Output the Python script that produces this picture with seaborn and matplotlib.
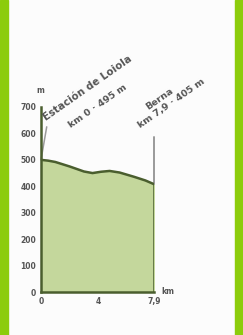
import numpy as np
import pandas as pd
import matplotlib
matplotlib.use("Agg")
import matplotlib.pyplot as plt
import seaborn as sns

# elevation profile
km = [0, 0.5, 1, 2, 3, 3.6, 4.2, 4.8, 5.5, 6.5, 7.3, 7.9]
alt = [500, 497, 492, 475, 456, 450, 455, 458, 452, 436, 422, 408]
yticks = [0, 100, 200, 300, 400, 500, 600, 700]
xticks = [0, 4, 7.9]
xlabels = ["0", "4", "7,9"]
start_name, start_info = "Estación de Loiola", "km 0 · 495 m"
end_name, end_info = "Berna", "km 7,9 · 405 m"

df = pd.DataFrame({"km": km, "alt": alt})

sns.set_style("white")
plt.rcParams["font.family"] = ["DejaVu Sans"]

fig = plt.figure(figsize=(2.43, 3.35), dpi=100)
fig.patch.set_facecolor("#fcfcfc")
# lime side bands of the card
fig.patches.append(plt.Rectangle((0, 0), 8 / 243, 1, transform=fig.transFigure,
                                 color="#8ccc0c", zorder=0))
fig.patches.append(plt.Rectangle((235 / 243, 0), 8 / 243, 1, transform=fig.transFigure,
                                 color="#8ccc0c", zorder=0))

ax = fig.add_axes([41 / 243, 1 - 292 / 335, 113 / 243, 185 / 335])
ax.set_facecolor("none")

dark = "#4a5e2e"
ax.fill_between(df["km"], 0, df["alt"], color="#c4d79c", zorder=1)
sns.lineplot(data=df, x="km", y="alt", ax=ax, color=dark, linewidth=1.8, zorder=3)
ax.plot([7.9, 7.9], [0, alt[-1]], color=dark, linewidth=1.8, zorder=3)
# markers for start / end
ax.plot([7.9, 7.9], [alt[-1], 585], color="#9a9a9a", linewidth=1.4, zorder=2, clip_on=False)
ax.plot([0, 0.4], [500, 625], color="#9a9a9a", linewidth=1.1, zorder=2, clip_on=False)

ax.set_xlim(0, 7.9)
ax.set_ylim(0, 700)
ax.set_xticks(xticks)
ax.set_xticklabels(xlabels)
ax.set_yticks(yticks)
ax.set_xlabel("")
ax.set_ylabel("")
sns.despine(ax=ax)
for s in ["left", "bottom"]:
    ax.spines[s].set_color(dark)
    ax.spines[s].set_linewidth(1.8)
ax.tick_params(axis="both", direction="inout", length=3, width=0.8, color=dark,
               labelsize=5.5, labelcolor="#555555", pad=2)
for t in ax.get_xticklabels() + ax.get_yticklabels():
    t.set_fontweight("bold")

ax.text(-0.05, 745, "m", fontsize=5.5, color="#555555", ha="center", va="bottom",
        fontweight="bold", clip_on=False)
ax.text(8.4, 0, "km", fontsize=5.5, color="#555555", ha="left", va="center",
        fontweight="bold", clip_on=False)

lab = dict(fontsize=6.8, color="#555555", fontweight="bold", rotation=35,
           rotation_mode="anchor", ha="left", va="bottom", clip_on=False)
ax.text(0.45, 640, start_name, fontsize=7.4,
        **{k: v for k, v in lab.items() if k != "fontsize"})
ax.text(2.15, 615, start_info, **lab)
ax.text(7.6, 682, end_name, **lab)
ax.text(7.05, 612, end_info, **lab)

fig.savefig("out.png", dpi=100)
